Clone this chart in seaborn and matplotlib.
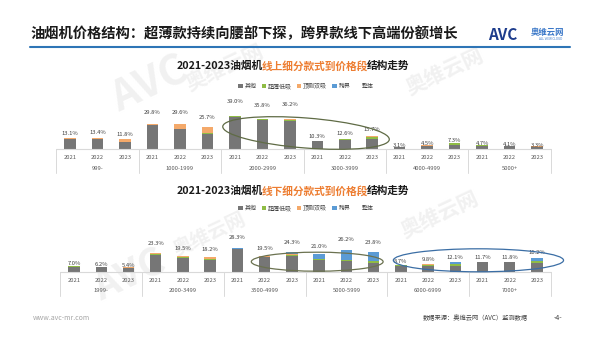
import numpy as np
import pandas as pd
import matplotlib
matplotlib.use("Agg")
import matplotlib.pyplot as plt
import matplotlib.transforms as mtrans
from matplotlib.patches import Patch, Ellipse
from matplotlib.lines import Line2D
import seaborn as sns

# ---------------- data ----------------
years = ["2021", "2022", "2023"]
seg_names = ["其他", "超薄低吸", "顶侧双吸", "跨界"]
total_name = "整体"

on_groups = ["999-", "1000-1999", "2000-2999", "3000-3999", "4000-4999", "5000+"]
on_total = [13.1, 13.4, 11.8, 29.8, 29.6, 25.7, 39.0, 35.8, 36.2,
            10.3, 12.6, 15.7, 3.1, 4.5, 7.3, 4.7, 4.1, 3.3]
on_other = [12.4, 12.2, 8.7, 28.3, 23.3, 18.2, 38.5, 34.6, 33.4,
            9.7, 11.0, 12.6, 2.5, 3.5, 5.3, 4.0, 3.4, 2.6]
on_thin = [0.2, 0.3, 0.4, 0.3, 0.4, 0.5, 0.3, 0.7, 1.2,
           0.4, 1.0, 2.0, 0.4, 0.7, 1.6, 0.5, 0.5, 0.5]
on_dual = [0.5, 0.9, 2.7, 1.2, 5.9, 7.0, 0.2, 0.5, 0.6,
           0.2, 0.6, 0.6, 0.2, 0.3, 0.2, 0.2, 0.2, 0.2]
on_cross = [0.0, 0.0, 0.0, 0.0, 0.0, 0.0, 0.0, 0.0, 1.0,
            0.0, 0.0, 0.5, 0.0, 0.0, 0.2, 0.0, 0.0, 0.0]

off_groups = ["1999-", "2000-3499", "3500-4999", "5000-5999", "6000-6999", "7000+"]
off_total = [7.0, 6.2, 5.4, 23.3, 19.5, 18.2, 28.3, 19.5, 24.3,
             21.0, 26.2, 23.8, 8.7, 9.8, 12.1, 11.7, 11.8, 16.2]
off_other = [6.0, 5.3, 4.6, 20.8, 17.0, 14.5, 27.3, 17.5, 19.0,
             14.2, 12.5, 10.5, 7.5, 7.3, 7.2, 11.3, 11.4, 10.4]
off_thin = [0.5, 0.5, 0.4, 0.3, 0.6, 0.8, 0.2, 0.6, 1.5,
            0.7, 1.3, 2.4, 0.4, 1.3, 1.8, 0.2, 0.2, 2.4]
off_dual = [0.5, 0.4, 0.4, 1.2, 1.4, 2.2, 0.3, 1.2, 1.0,
            0.0, 0.4, 0.3, 0.0, 0.4, 0.4, 0.0, 0.0, 0.8]
off_cross = [0.0, 0.0, 0.0, 1.0, 0.5, 0.7, 0.5, 0.2, 2.8,
             6.1, 12.0, 10.6, 0.8, 0.8, 2.7, 0.2, 0.2, 2.6]

title_main = "油烟机价格结构：超薄款持续向腰部下探，跨界款线下高端份额增长"
title_on = ["2021-2023油烟机", "线上细分款式到价格段", "结构走势"]
title_off = ["2021-2023油烟机", "线下细分款式到价格段", "结构走势"]

seg_colors = ["#767676", "#8fbc45", "#f4a96a", "#5b9bd5"]

# ---------------- style ----------------
sns.set_theme(style="white")
plt.rcParams["font.family"] = ["Noto Sans CJK SC", "DejaVu Sans"]

W, H = 600, 346
fig = plt.figure(figsize=(W / 100, H / 100), dpi=100)
fig.patch.set_facecolor("white")


def fx(px):
    return px / W


def fy(py):
    return 1 - py / H


# watermarks
wm_color = "#f1f1f1"
for (x, y, s, fs) in [(150, 85, "AVC", 30), (225, 68, "奥维云网", 15),
                      (130, 275, "AVC", 28), (210, 235, "奥维云网", 14),
                      (445, 72, "奥维云网", 15), (440, 215, "奥维云网", 15)]:
    fig.text(fx(x), fy(y), s, fontsize=fs, color=wm_color, rotation=25,
             ha="center", va="center", weight="bold", zorder=-5)


def draw_panel(rect, groups, total, other, thin, dual, cross, ylim1, ylim2,
               base_px_h, title_parts, title_xy, legend_xy, ellipses):
    ax = fig.add_axes(rect)
    ax.set_facecolor("none")
    ids = [f"{g}|{y}" for g in groups for y in years]
    c1 = np.array(other)
    c2 = c1 + np.array(thin)
    c3 = c2 + np.array(dual)
    c4 = c3 + np.array(cross)
    df = pd.DataFrame({"id": ids, "c1": c1, "c2": c2, "c3": c3, "c4": c4})
    for col, color in zip(["c4", "c3", "c2", "c1"], seg_colors[::-1]):
        sns.barplot(data=df, x="id", y=col, order=ids, color=color,
                    width=0.42, saturation=1, linewidth=0, ax=ax)
    n = len(ids)
    ax.set_xlim(-0.5, n - 0.5)
    ax.set_ylim(0, ylim1)
    ax.set_xticks(range(n))
    ax.set_xticklabels(years * len(groups), fontsize=4.2, color="#595959")
    ax.tick_params(axis="x", length=0, pad=4.3)
    ax.set_yticks([])
    ax.set_xlabel("")
    ax.set_ylabel("")
    ax.grid(False)
    for sp in ax.spines.values():
        sp.set_visible(False)

    trans = mtrans.blended_transform_factory(ax.transData, ax.transAxes)
    ax.plot([-0.5, n - 0.5], [0, 0], color="#d9d9d9", lw=0.8,
            transform=trans, clip_on=False)
    sep_len = 24 / base_px_h
    for b in np.arange(-0.5, n, 3):
        ax.plot([b, b], [0, -sep_len], color="#d9d9d9", lw=0.7,
                transform=trans, clip_on=False)
    for gi, g in enumerate(groups):
        ax.annotate(g, xy=(gi * 3 + 1, 0), xycoords=trans,
                    xytext=(0, -19 * 0.72), textcoords="offset points",
                    ha="center", va="center", fontsize=4.2, color="#595959")

    # overall share (secondary scale, drawn as an invisible line with labels)
    ax2 = ax.twinx()
    sns.lineplot(x=list(range(n)), y=total, ax=ax2, alpha=0, legend=False)
    ax2.set_ylim(0, ylim2)
    ax2.set_xlim(-0.5, n - 0.5)
    ax2.set_axis_off()
    for i, v in enumerate(total):
        ax2.text(i, v, f"{v:.1f}%", ha="center", va="center",
                 fontsize=4.2, color="#404040")

    # title (three colour runs)
    t1 = fig.text(fx(title_xy[0]), fy(title_xy[1]), title_parts[0],
                  fontsize=7.7, weight="bold", color="#1a1a1a",
                  ha="left", va="center")
    t2 = ax.annotate(title_parts[1], xy=(1, 0.5), xycoords=t1,
                     xytext=(-1.0, 0), textcoords="offset points",
                     ha="left", va="center", fontsize=7.7, weight="bold",
                     color="#ed7d31", annotation_clip=False)
    ax.annotate(title_parts[2], xy=(1, 0.5), xycoords=t2,
                xytext=(-1.0, 0), textcoords="offset points",
                ha="left", va="center", fontsize=7.7, weight="bold",
                color="#1a1a1a", annotation_clip=False)

    # legend
    handles = [Patch(facecolor=c, edgecolor="none") for c in seg_colors]
    handles.append(Line2D([], [], color="none"))
    fig.legend(handles, seg_names + [total_name], loc="center",
               bbox_to_anchor=(fx(legend_xy[0]), fy(legend_xy[1])), ncol=5,
               frameon=False, fontsize=4.3, handlelength=0.7,
               handleheight=0.7, columnspacing=0.9, handletextpad=0.3,
               labelcolor="#404040")

    # highlight ellipses
    fig.canvas.draw()
    ppu = ax.transData.transform((1, 0))[0] - ax.transData.transform((0, 0))[0]
    for (cx, cy_px, wu, h_px, ang, col) in ellipses:
        x0, y0 = ax.transData.transform((cx, 0))
        e = Ellipse((x0, y0 + cy_px), wu * ppu, h_px, angle=ang,
                    fill=False, edgecolor=col, lw=0.9,
                    transform=mtrans.IdentityTransform())
        fig.add_artist(e)
    return ax


# panel 1 (online)
p1_left, p1_right, p1_base, p1_top = 56.3, 550.8, 149.3, 95.0
h1 = p1_base - p1_top
draw_panel([fx(p1_left), fy(p1_base), fx(p1_right) - fx(p1_left), h1 / H],
           on_groups, on_total, on_other, on_thin, on_dual, on_cross,
           h1 / 0.85, h1 / 1.235, h1, title_on, (177, 66), (306, 86),
           [(8.59, 16.3, 6.08, 30, -4.5, "#5f6b45")])

# panel 2 (offline)
p2_left, p2_right, p2_base, p2_top = 60.4, 550.6, 271.7, 217.0
h2 = p2_base - p2_top
draw_panel([fx(p2_left), fy(p2_base), fx(p2_right) - fx(p2_left), h2 / H],
           off_groups, off_total, off_other, off_thin, off_dual, off_cross,
           h2 / 0.82, h2 / 1.21, h2, title_off, (177, 191), (306, 208),
           [(8.93, 10.0, 4.84, 19, 0, "#6b7250"),
            (14.85, 11.4, 6.25, 23, 0, "#3b6ea5")])

# main title and header line
fig.text(fx(30), fy(34), title_main, fontsize=10.3, weight="bold",
         color="#1a1a1a", ha="left", va="center")
fig.add_artist(Line2D([fx(30), fx(570)], [fy(47), fy(47)],
                      transform=fig.transFigure, color="#2e75b6", lw=1.5))

# logo
fig.text(fx(488), fy(35), "AVC", fontsize=11, weight="heavy", style="italic",
         color="#1d3c8c", ha="left", va="center")
fig.text(fx(531), fy(32), "奥维云网", fontsize=6, weight="bold",
         color="#3b78c8", ha="left", va="center")
fig.text(fx(551), fy(39), "ALL VIEW CLOUD", fontsize=2.2,
         color="#3b78c8", ha="center", va="center")

# footer
fig.text(fx(33), fy(318), "www.avc-mr.com", fontsize=5, color="#a6a6a6",
         ha="left", va="center")
fig.text(fx(528), fy(318), "数据来源：奥维云网（AVC）监测数据", fontsize=4.5,
         color="#404040", ha="right", va="center")
fig.text(fx(558), fy(318), "-4-", fontsize=5, color="#404040",
         ha="center", va="center")

fig.savefig("out.png", dpi=100, facecolor="white")
